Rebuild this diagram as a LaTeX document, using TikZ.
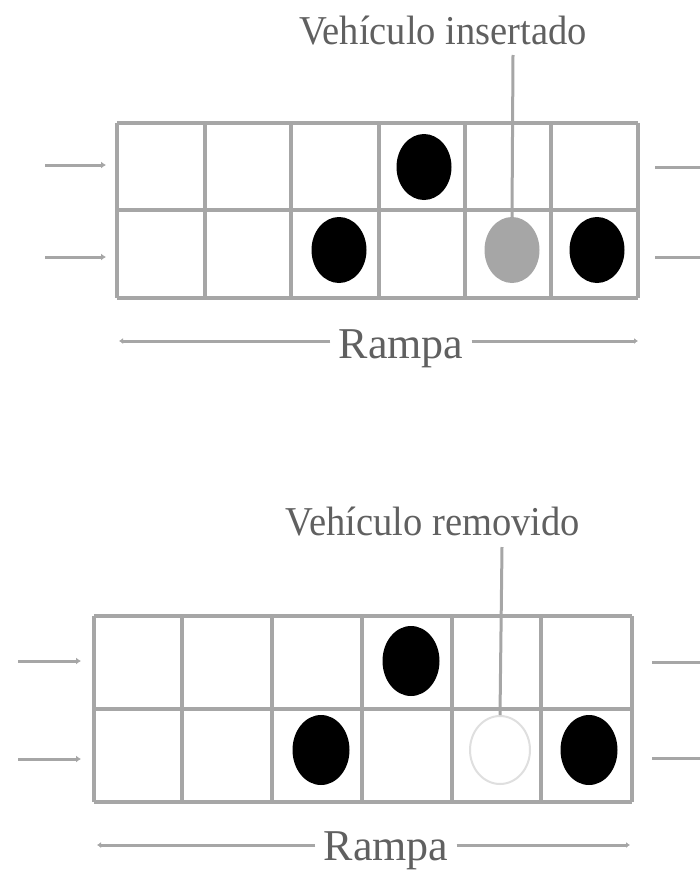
\documentclass[tikz,border=0pt]{standalone}
\usepackage{fontspec}
\setmainfont{Liberation Serif}
\usetikzlibrary{shapes.geometric,arrows.meta}
\definecolor{lin}{HTML}{A6A6A6}
\definecolor{txt}{HTML}{606060}
\begin{document}
\begin{tikzpicture}[x=1pt,y=-1pt,
  gridline/.style={draw=lin, line width=3.5pt},
  car/.style={ellipse, fill=black, inner sep=0pt, minimum width=55pt, minimum height=66pt},
  carB/.style={car, minimum width=57pt, minimum height=70pt},
  newcar/.style={car, fill=gray!70},
  gonecar/.style={ellipse, draw=gray!25, line width=2pt, fill=white, inner sep=0pt, minimum width=60pt, minimum height=68pt},
  lbl/.style={font=\fontsize{41}{41}\selectfont, text=txt, inner sep=0pt, xscale=0.94, anchor=base},
  rlbl/.style={font=\fontsize{44}{44}\selectfont, text=txt, inner sep=0pt, xscale=1.0, anchor=base},
  flow/.style={draw=lin, line width=3pt, -{Latex[length=5pt,width=7pt]}},
  plain/.style={draw=lin, line width=3pt},
  ramp/.style={draw=lin, line width=3pt, -{Latex[length=4pt,width=6pt]}},
  pointer/.style={draw=lin, line width=3pt}]
\useasboundingbox (0,0) rectangle (700,872);

% ---------- top panel ----------
\foreach \x in {117,205,291,379,465,551,638}
  \draw[gridline] (\x,123) -- (\x,298);
\foreach \y in {123,210,298}
  \draw[gridline] (117,\y) -- (638,\y);

\node[car] (a1) at (424,167) {};
\node[car] (a2) at (339,250) {};
\node[newcar] (ins) at (512,250) {};
\node[car] (a3) at (597,250) {};

\node[lbl] (lab1) at (443,45) {Vehículo insertado};
\coordinate (p1) at (513,55);
\draw[pointer] (p1) -- (ins.north);

\coordinate (l1s) at (45,165); \coordinate (l1e) at (106,165);
\coordinate (l2s) at (45,257); \coordinate (l2e) at (106,257);
\draw[flow] (l1s) -- (l1e);
\draw[flow] (l2s) -- (l2e);
\coordinate (r1s) at (655,167); \coordinate (r1e) at (700,167);
\coordinate (r2s) at (655,257); \coordinate (r2e) at (700,257);
\draw[plain] (r1s) -- (r1e);
\draw[plain] (r2s) -- (r2e);

\node[rlbl] (ramp1) at (401,358) {Rampa};
\coordinate (ra1) at (119,341); \coordinate (rb1) at (638,341);
\draw[ramp] (ramp1.west |- ra1) ++(-8,0) -- (ra1);
\draw[ramp] (ramp1.east |- rb1) ++(8,0) -- (rb1);

% ---------- bottom panel ----------
\foreach \x in {94,182,272,362,452,541,632}
  \draw[gridline] (\x,616) -- (\x,802);
\foreach \y in {616,709,802}
  \draw[gridline] (94,\y) -- (632,\y);

\node[carB] (b1) at (411,661) {};
\node[carB] (b2) at (321,750) {};
\node[gonecar] (rem) at (500,750) {};
\node[carB] (b3) at (589,750) {};

\node[lbl] (lab2) at (433,535) {Vehículo removido};
\coordinate (p2) at (502,547);
\draw[pointer] (p2) -- (rem.north);

\coordinate (m1s) at (18,661); \coordinate (m1e) at (81,661);
\coordinate (m2s) at (18,759); \coordinate (m2e) at (81,759);
\draw[flow] (m1s) -- (m1e);
\draw[flow] (m2s) -- (m2e);
\coordinate (n1s) at (652,662); \coordinate (n1e) at (700,662);
\coordinate (n2s) at (652,758); \coordinate (n2e) at (700,758);
\draw[plain] (n1s) -- (n1e);
\draw[plain] (n2s) -- (n2e);

\node[rlbl] (ramp2) at (386,860) {Rampa};
\coordinate (ra2) at (97,845); \coordinate (rb2) at (630,845);
\draw[ramp] (ramp2.west |- ra2) ++(-8,0) -- (ra2);
\draw[ramp] (ramp2.east |- rb2) ++(8,0) -- (rb2);
\end{tikzpicture}
\end{document}
